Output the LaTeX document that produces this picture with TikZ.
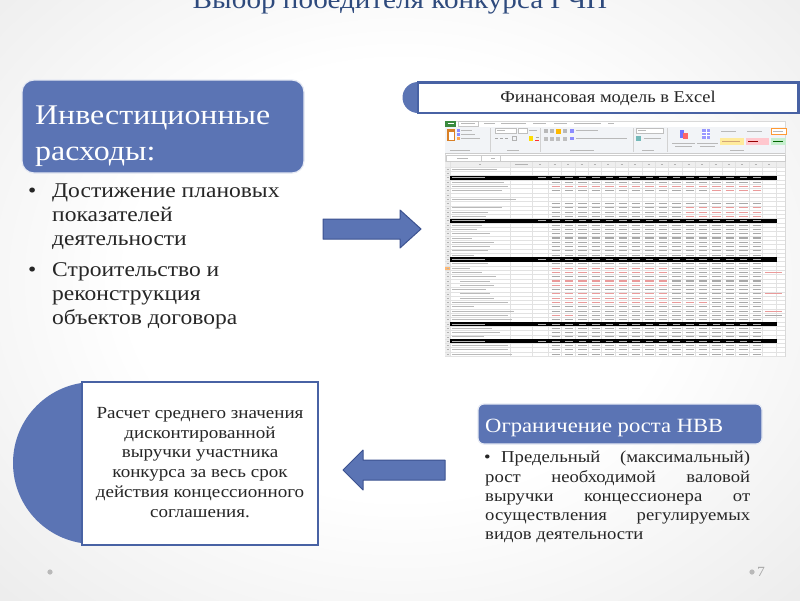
\documentclass[tikz,border=0pt]{standalone}
\usepackage{fontspec}
\setmainfont[FakeStretch=1.12]{Liberation Serif}
\usetikzlibrary{shadings}
\definecolor{boxblue}{HTML}{5B74B4}
\definecolor{boxedge}{HTML}{4862A4}
\definecolor{arrowedge}{HTML}{3C5290}
\definecolor{titleblue}{HTML}{2E4A7D}
\definecolor{txt}{HTML}{262626}
\definecolor{xlgreen}{HTML}{3A8A3E}
\definecolor{ribbon}{HTML}{F2F4F7}
\definecolor{numgray}{HTML}{A8A8A8}
\definecolor{numred}{HTML}{EA9A9A}
\definecolor{gridc}{HTML}{E2E2E2}
\definecolor{styleyellow}{HTML}{FFEB9C}
\definecolor{stylepink}{HTML}{FFC7CE}
\definecolor{stylegreen}{HTML}{C6EFCE}
\pgfdeclareradialshading{slidebg}{\pgfpoint{0bp}{0bp}}{color(0bp)=(white);color(17bp)=(white);color(50bp)=(black!13);color(72bp)=(black!20)}
\tikzset{
  wtxt/.style={anchor=base west, inner sep=0, text=white},
  btxt/.style={anchor=base west, inner sep=0, text=txt},
  ctxt/.style={anchor=base, inner sep=0, text=txt, font=\fontsize{17}{20}\selectfont},
  rtxt/.style={anchor=base west, inner sep=0, text=txt, font=\fontsize{16.7}{19}\selectfont},
  blockarrow/.style={fill=boxblue, draw=arrowedge, line width=1pt, line join=round},
  bluebox/.style={fill=boxblue, draw=white!85!boxblue, line width=1.2pt},
  xldash/.style={line width=1pt, gray!55},
  numdash/.style={line width=1.1pt},
}
\begin{document}
\begin{tikzpicture}[x=1pt,y=-1pt]
\useasboundingbox (0,0) rectangle (800,600);
\begin{scope}
\clip (0,0) rectangle (800,600);
\shade[shading=slidebg] (0,-40) rectangle (800,600);

% title (cut by the top edge)
\node[anchor=base, inner sep=0, text=titleblue, font=\fontsize{26}{30}\selectfont] (title) at (400,8) {Выбор победителя конкурса ГЧП};

% ---------- top-left block ----------
\path[bluebox, rounded corners=12pt] (22,80) rectangle (304,173);
\node[wtxt, font=\fontsize{28.5}{34}\selectfont] (inv1) at (35,124) {Инвестиционные};
\node[wtxt, font=\fontsize{28.5}{34}\selectfont] (inv2) at (35,160) {расходы:};
\begin{scope}[every node/.style={btxt, font=\fontsize{21}{24}\selectfont}]
\node (b1) at (28,197) {•};
\node (l1) at (52,197) {Достижение плановых};
\node (l2) at (52,221) {показателей};
\node (l3) at (52,245) {деятельности};
\node (b2) at (28,276) {•};
\node (l4) at (52,276) {Строительство и};
\node (l5) at (52,300) {реконструкция};
\node (l6) at (52,324) {объектов договора};
\end{scope}

% ---------- arrows ----------
\draw[blockarrow] (323,219) -- (400,219) -- (400,210) -- (421,229) -- (400,248) -- (400,239) -- (323,239) -- cycle;
\draw[blockarrow] (445,460) -- (363,460) -- (363,450) -- (343,470) -- (363,490) -- (363,480) -- (445,480) -- cycle;

% ---------- banner ----------
\fill[boxblue] (418,97.5) circle (15.5);
\draw[boxedge, fill=white, line width=2.2pt] (418,82.5) rectangle (798.5,113);
\node[anchor=center, inner sep=0, text=txt, font=\fontsize{16.5}{20}\selectfont] (fin) at (608,98) {Финансовая модель в Excel};

% ---------- Excel screenshot ----------
\draw[gray!30, fill=white, line width=.4pt] (445,121) rectangle (785,356.2);
% tabs
\fill[xlgreen] (445,121) rectangle (456,126.5);
\draw[white, line width=.8pt] (447.5,123.8) -- (453.5,123.8);
\draw[gray!45, fill=white, line width=.4pt] (458,121.5) rectangle (478,126.5);
\foreach \a/\b in {461/475,484/495,501/526,533/546,554/567,574/601,608/614}
  \draw[xldash, line width=.8pt] (\a,123.8) -- (\b,123.8);
% ribbon
\fill[ribbon] (445,126.5) rectangle (785,153.5);
\draw[gray!40, line width=.4pt] (445,153.5) -- (785,153.5);
\foreach \s in {490,540,633,667}
  \draw[gray!35, line width=.4pt] (\s,128) -- (\s,152);
\foreach \a/\b in {450/470,507/519,570/594,642/654,730/744}
  \draw[xldash, line width=.7pt] (\a,150.3) -- (\b,150.3);
% clipboard group
\fill[brown!60!orange] (447,129) rectangle (455,141);
\fill[white] (449,131.5) rectangle (453.5,139.5);
\fill[blue!45] (457,129) rectangle (459.5,131.5);
\fill[blue!45] (457,133) rectangle (459.5,135.5);
\fill[orange!70] (457,137) rectangle (459.5,139.5);
\foreach \yy/\b in {130.2/472,134.2/475,138.2/480}
  \draw[xldash, line width=.8pt] (461,\yy) -- (\b,\yy);
% font group
\draw[gray!50, fill=white, line width=.4pt] (495,128.5) rectangle (516,133);
\draw[xldash, line width=.7pt] (497,130.8) -- (505,130.8);
\draw[gray!50, fill=white, line width=.4pt] (518,128.5) rectangle (527,133);
\draw[xldash, line width=.8pt] (529,130.8) -- (537,130.8);
\foreach \a in {495,500,505}
  \draw[gray!70, line width=1.1pt] (\a,138.5) -- (\a+3,138.5);
\draw[gray!60, line width=.8pt] (512,136.5) rectangle (516,140.5);
\fill[yellow!80!orange] (529,136) rectangle (533,141);
\draw[gray!70, line width=.8pt] (535.5,137.5) -- (538.5,137.5);
\fill[red!80] (535,139.5) rectangle (539,141);
% alignment group
\foreach \a in {544,550} \fill[gray!55] (\a,129) rectangle (\a+4,133);
\fill[orange!55!yellow] (556,128.5) rectangle (561,133.5);
\fill[gray!55] (563,129) rectangle (567,133);
\foreach \a in {544,550,556,563} \fill[gray!50] (\a,136.5) rectangle (\a+4,140.5);
\fill[blue!45] (570,129) rectangle (573.5,132.5);
\draw[xldash, line width=.8pt] (576,130.8) -- (598,130.8);
\fill[blue!45] (570,136.5) rectangle (573.5,140);
\draw[xldash, line width=.8pt] (576,138.3) -- (627,138.3);
% number group
\draw[gray!50, fill=white, line width=.4pt] (636,128.5) rectangle (663,133);
\draw[xldash, line width=.7pt] (638,130.8) -- (646,130.8);
\fill[teal!55] (636,136) rectangle (641,140.5);
\draw[xldash, line width=.8pt] (644,138.3) -- (661,138.3);
% styles group
\fill[blue!55] (679.5,129.5) rectangle (684,138);
\fill[red!60] (683,132.5) rectangle (687.5,139);
\fill[blue!40] (702,129) rectangle (710,139);
\draw[white, line width=.4pt] (702,132) -- (710,132) (702,135.5) -- (710,135.5) (706,129) -- (706,139);
\foreach \a/\b in {672/695,697/718}
  { \draw[xldash, line width=.7pt] (\a,143.5) -- (\b,143.5);
    \draw[xldash, line width=.7pt] (\a+3,146.5) -- (\b-3,146.5); }
\draw[xldash, line width=.7pt] (721,131) -- (736,131);
\draw[xldash, line width=.7pt] (747,131) -- (762,131);
\draw[orange!80, fill=white, line width=.5pt] (771,128) rectangle (786,134.5);
\draw[xldash, line width=.7pt] (773,131.2) -- (783,131.2);
\fill[styleyellow] (720,138) rectangle (744,145);
\draw[brown!70, line width=.7pt] (722,141.5) -- (740,141.5);
\fill[stylepink] (746,138) rectangle (769,145);
\draw[red!60!black, line width=.7pt] (748,141.5) -- (758,141.5);
\fill[stylegreen] (771,138) rectangle (786,145);
\draw[green!40!black, line width=.7pt] (773,141.5) -- (783,141.5);
% formula bar
\draw[gray!40, fill=white, line width=.4pt] (446,155) rectangle (785,161);
\draw[gray!40, line width=.4pt] (481,155) -- (481,161) (500,155) -- (500,161);
\draw[xldash, line width=.8pt] (457,158) -- (468,158);
\draw[xldash, line width=.8pt] (491,158) -- (495,158);
% headers
\fill[gray!13] (445,162) rectangle (785,167);
\fill[gray!13] (445,167) rectangle (450,356.2);
\fill[orange!55] (445,{167+4.3*23}) rectangle (450,{167+4.3*24});
% grid
\foreach \r in {0,...,44}
  \draw[gridc, line width=.25pt] (445,{167+4.3*\r}) -- (785,{167+4.3*\r});
\foreach \xx in {450,510,532,548,561.4,574.8,588.2,601.6,615,628.4,641.8,655.2,668.6,682,695.4,708.8,722.2,735.6,749,762.4,775.8}
  \draw[gridc, line width=.25pt] (\xx,162) -- (\xx,356.2);
% column letters
\foreach \xx in {480,540,554.7,568.1,581.5,594.9,608.3,621.7,635.1,648.5,661.9,675.3,688.7,702.1,715.5,728.9,742.3,755.7,769.1}
  \draw[gray!60, line width=.8pt] (\xx-1,164.5) -- (\xx+1,164.5);
\draw[gray!60, line width=.8pt] (515,164.5) -- (528,164.5);
% row numbers
\foreach \r in {0,...,43}
  \draw[gray!60, line width=.6pt] (446.5,{167+4.3*\r+2.15}) -- (448.5,{167+4.3*\r+2.15});
% black bands
\foreach \r in {2,12,21,36,40} {
  \fill[black] (450,{167+4.3*\r}) rectangle (777,{167+4.3*\r+4.3});
  \draw[white!70!black, line width=.8pt] (452,{167+4.3*\r+2.15}) -- (485,{167+4.3*\r+2.15});
  \draw[white!70!black, line width=.8pt] (538,{167+4.3*\r+2.15}) -- (546,{167+4.3*\r+2.15});
  \foreach \c in {0,...,15}
    \draw[white!70!black, line width=.8pt] ({548+13.4*\c+4},{167+4.3*\r+2.15}) -- ++(7.5,0);
}
% labels in column A
\foreach \r/\a/\l in {0/0/45,3/0/52,4/0/56,5/0/50,7/0/64,9/0/50,10/0/36,11/0/34,13/0/30,14/0/25,15/0/38,16/0/20,17/0/42,18/0/38,19/0/36,20/0/22,22/0/36,23/0/18,24/0/30,25/0/44,26/8/30,27/8/34,28/0/34,29/8/30,30/8/34,31/0/56,32/0/22,33/0/62,34/0/56,35/0/60,37/0/40,38/0/48,39/0/32,41/0/56,42/0/56,43/0/60}
  \draw[gray!55, line width=.9pt] ({452+\a},{167+4.3*\r+2.15}) -- ++(\l,0);
% numbers
\foreach \r in {3,4,5,8,9,10,11,13,14,15,16,17,18,19,20,22,23,24,25,26,27,28,29,30,31,32,33,34,35,37,38,39,41,42,43} {
  \foreach \c in {0,...,15} {
    \pgfmathtruncatemacro\isred{(\r==4)||(\r==5&&\c>11)||(\r>=9&&\r<=11&&\c>9)||((\r==23||\r==24||\r==26||\r==27||\r==29||\r==30)&&\c<9)||(\r==31&&\c<12)||(\r==34&&\c<2)}
    \ifnum\isred=1 \def\nc{numred}\else\def\nc{numgray}\fi
    \draw[numdash, \nc] ({548+13.4*\c+3.5},{167+4.3*\r+2.15}) -- ++(8.5,0);
  }
}
\foreach \r/\cc in {24/numred,29/numred,33/numred,34/numgray}
  \draw[numdash, \cc] (765,{167+4.3*\r+2.15}) -- (782,{167+4.3*\r+2.15});

% ---------- bottom-left block ----------
\fill[boxblue] (94,463) circle (81);
\draw[boxedge, fill=white, line width=1.3pt] (82,382) rectangle (318,545);
\node[ctxt] (c1) at (200,418) {Расчет среднего значения};
\node[ctxt] (c2) at (200,438) {дисконтированной};
\node[ctxt] (c3) at (200,457.5) {выручки участника};
\node[ctxt] (c4) at (200,477) {конкурса за весь срок};
\node[ctxt] (c5) at (200,497) {действия концессионного};
\node[ctxt] (c6) at (200,517) {соглашения.};

% ---------- bottom-right block ----------
\path[bluebox, rounded corners=6pt] (478,404) rectangle (762,444);
\node[wtxt, font=\fontsize{20.2}{24}\selectfont] (nvv) at (485,432) {Ограничение роста НВВ};
\node[rtxt] (rb) at (484,462) {•};
\node[rtxt] (r1) at (501,462) {\makebox[249pt][s]{Предельный (максимальный)}};
\node[rtxt] (r2) at (485,482) {\makebox[265pt][s]{рост необходимой валовой}};
\node[rtxt] (r3) at (485,501) {\makebox[265pt][s]{выручки концессионера от}};
\node[rtxt] (r4) at (485,520) {\makebox[265pt][s]{осуществления регулируемых}};
\node[rtxt] (r5) at (485,539) {видов деятельности};

% ---------- footer ----------
\fill[gray!55] (50,572) circle (2.6);
\fill[gray!55] (752,572) circle (2.6);
\node[anchor=base west, inner sep=0, text=gray!70, font=\fontsize{14}{16}\selectfont] (pg) at (757,576) {7};
\end{scope}
\end{tikzpicture}
\end{document}
